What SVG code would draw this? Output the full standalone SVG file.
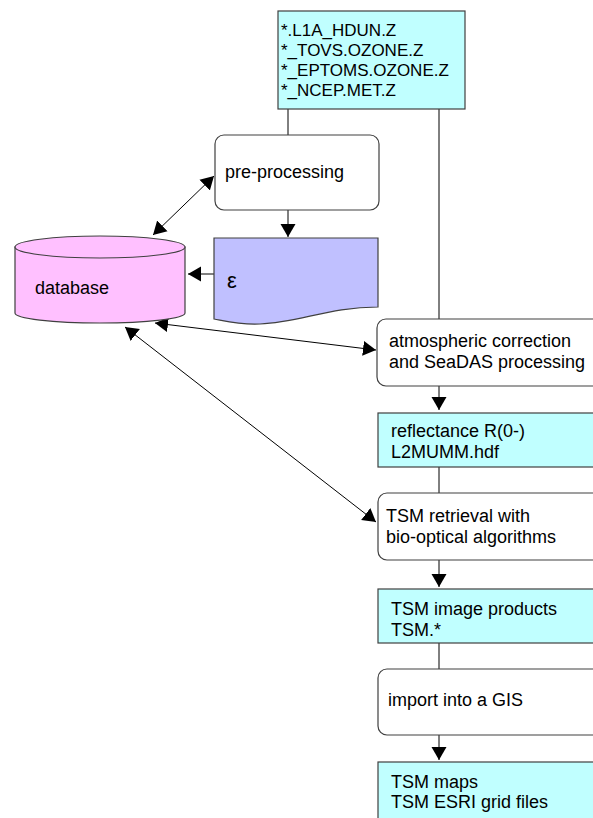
<svg xmlns="http://www.w3.org/2000/svg" width="593" height="818" viewBox="0 0 593 818">
<style>
.box{stroke:#404040;stroke-width:1.2}
.data{fill:#C0FFFF}
.proc{fill:#FFFFFF}
.t{font-family:"Liberation Sans",Arial,sans-serif;font-size:18px;fill:#000}
.tt{font-family:"Liberation Sans",Arial,sans-serif;font-size:17px;fill:#000}
.c{stroke:#000;stroke-width:1;fill:none}
</style>
<defs>
<marker id="ah" markerUnits="userSpaceOnUse" markerWidth="16" markerHeight="16" viewBox="0 0 16 16" refX="13" refY="8" orient="auto-start-reverse">
<path d="M0,0.5 L13,8 L0,15.5 Z" fill="#000"/>
</marker>
</defs>
<rect width="593" height="818" fill="#fff"/>
<g id="connectors">
<line class="c" x1="288" y1="109" x2="288" y2="135"/>
<line class="c" x1="288" y1="210" x2="288" y2="237" marker-end="url(#ah)"/>
<line class="c" x1="214" y1="274" x2="188" y2="274" marker-end="url(#ah)"/>
<line class="c" x1="214" y1="176" x2="153" y2="235" marker-start="url(#ah)" marker-end="url(#ah)"/>
<line class="c" x1="155" y1="323" x2="376" y2="350" marker-start="url(#ah)" marker-end="url(#ah)"/>
<line class="c" x1="125" y1="327" x2="376" y2="522" marker-start="url(#ah)" marker-end="url(#ah)"/>
<line class="c" x1="439" y1="109" x2="439" y2="319"/>
<line class="c" x1="439" y1="386" x2="439" y2="410" marker-end="url(#ah)"/>
<line class="c" x1="439" y1="467" x2="439" y2="493"/>
<line class="c" x1="439" y1="560" x2="439" y2="587" marker-end="url(#ah)"/>
<line class="c" x1="439" y1="643" x2="439" y2="669"/>
<line class="c" x1="439" y1="735" x2="439" y2="760" marker-end="url(#ah)"/>
</g>
<g id="input">
<rect class="box data" x="278" y="11" width="187" height="98"/>
<text class="tt" x="281" y="36">*.L1A_HDUN.Z</text>
<text class="tt" x="281" y="56">*_TOVS.OZONE.Z</text>
<text class="tt" x="281" y="76">*_EPTOMS.OZONE.Z</text>
<text class="tt" x="281" y="96">*_NCEP.MET.Z</text>
</g>
<g id="preprocessing">
<rect class="box proc" x="215" y="135" width="164" height="75" rx="9"/>
<text class="t" x="225" y="178">pre-processing</text>
</g>
<g id="epsilon">
<path class="box" fill="#C0C0FF" d="M214,238 H378 V307 C330,307 300,322 260,324 C240,325 225,321 214,319 Z"/>
<text class="t" x="227" y="288" style="font-size:22px">ε</text>
</g>
<g id="database">
<path class="box" fill="#FFC0FF" d="M15,247 V313 A85,10 0 0 0 185,313 V247 Z"/>
<ellipse class="box" fill="#FFC0FF" cx="100" cy="247" rx="85" ry="11"/>
<text class="t" x="35" y="294">database</text>
</g>
<g id="atmospheric">
<rect class="box proc" x="377" y="319" width="230" height="67" rx="9"/>
<text class="t" x="389" y="347">atmospheric correction</text>
<text class="t" x="389" y="368">and SeaDAS processing</text>
</g>
<g id="reflectance">
<rect class="box data" x="378" y="413" width="230" height="54"/>
<text class="t" x="391" y="437">reflectance R(0-)</text>
<text class="t" x="391" y="458">L2MUMM.hdf</text>
</g>
<g id="retrieval">
<rect class="box proc" x="378" y="493" width="230" height="67" rx="9"/>
<text class="t" x="386" y="522">TSM retrieval with</text>
<text class="t" x="386" y="543">bio-optical algorithms</text>
</g>
<g id="products">
<rect class="box data" x="378" y="589" width="230" height="54"/>
<text class="t" x="391" y="615">TSM image products</text>
<text class="t" x="391" y="636">TSM.*</text>
</g>
<g id="gis">
<rect class="box proc" x="378" y="669" width="230" height="66" rx="9"/>
<text class="t" x="388" y="706">import into a GIS</text>
</g>
<g id="maps">
<rect class="box data" x="378" y="762" width="230" height="70"/>
<text class="t" x="391" y="788">TSM maps</text>
<text class="t" x="391" y="808">TSM ESRI grid files</text>
</g>
</svg>
